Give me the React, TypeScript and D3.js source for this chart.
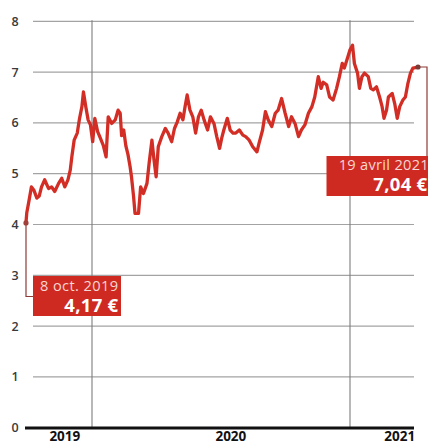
import React from "react";
import * as d3 from "d3";

// ---- data (days since 8 Oct 2019, share price in €) ----
const startDate = new Date(2019, 9, 8);
const dayOffsets = [
  0, 1, 4, 7, 10, 14, 17, 20, 24, 29, 33, 37, 42, 46, 50, 54, 57, 59, 62, 66,
  69, 72, 74, 77, 80, 83, 86, 89, 93, 96, 101, 105, 108, 113, 118, 122, 125, 127, 130, 133,
  136, 139, 141, 144, 146, 151, 154, 158, 163, 166, 170, 173, 176, 179, 184, 189, 193, 198, 202, 206,
  210, 214, 217, 220, 224, 228, 232, 236, 240, 244, 249, 253, 258, 262, 266, 269, 272, 277, 281, 285,
  289, 294, 299, 303, 308, 313, 319, 322, 327, 331, 335, 340, 345, 349, 354, 359, 364, 368, 373, 378,
  382, 387, 392, 397, 401, 406, 410, 413, 418, 422, 427, 432, 436, 440, 443, 448, 451, 455, 458, 463,
  466, 470, 474, 480, 484, 488, 493, 498, 502, 505, 509, 512, 518, 522, 526, 530, 535, 539, 543, 547,
  551, 559,
];
const prices = [
  4.04, 4.23, 4.48, 4.74, 4.68, 4.52, 4.56, 4.74, 4.88, 4.71, 4.74, 4.65, 4.81, 4.91, 4.74, 4.88, 5.07, 5.33, 5.66, 5.8,
  6.09, 6.32, 6.61, 6.32, 6.06, 5.96, 5.63, 6.09, 5.83, 5.73, 5.56, 5.33, 6.12, 5.99, 6.06, 6.25, 6.19, 5.75, 5.86, 5.55,
  5.38, 5.14, 4.94, 4.55, 4.22, 4.22, 4.74, 4.61, 4.81, 5.2, 5.66, 5.27, 4.94, 5.53, 5.73, 5.89, 5.8, 5.63, 5.89, 6.02,
  6.19, 6.06, 6.32, 6.55, 6.25, 6.12, 5.8, 6.12, 6.25, 6.06, 5.86, 6.12, 5.99, 5.73, 5.5, 5.7, 5.86, 6.09, 5.86, 5.8,
  5.8, 5.86, 5.76, 5.73, 5.66, 5.53, 5.43, 5.6, 5.86, 6.22, 6.06, 5.93, 6.19, 6.25, 6.48, 6.19, 5.93, 6.12, 5.99, 5.73,
  5.86, 5.96, 6.19, 6.32, 6.51, 6.91, 6.68, 6.8, 6.75, 6.51, 6.45, 6.68, 6.91, 7.17, 7.08, 7.3, 7.44, 7.53, 7.17, 6.98,
  6.68, 6.91, 6.98, 6.91, 6.68, 6.65, 6.71, 6.51, 6.32, 6.09, 6.25, 6.51, 6.58, 6.38, 6.09, 6.32, 6.45, 6.51, 6.78, 6.98,
  7.08, 7.1,
];
const yTicks = [0, 1, 2, 3, 4, 5, 6, 7, 8];
const yearLines = [new Date(2020, 0, 1), new Date(2021, 0, 1)];
const yearLabels = ["2019", "2020", "2021"];
const yearLabelDates = [new Date(2019, 10, 27), new Date(2020, 6, 16), new Date(2021, 2, 21)];
const firstLabel = { date: "8 oct. 2019", value: "4,17 €" };
const lastLabel = { date: "19 avril 2021", value: "7,04 €" };

export default function App() {
  const W = 428;
  const H = 444;
  const endDate = d3.timeDay.offset(startDate, 559);
  const x = d3
    .scaleTime()
    .domain([startDate, yearLines[0], yearLines[1], endDate])
    .range([26, 92, 350, 418]);
  const y = d3.scaleLinear().domain([0, 8]).range([427.7, 21.3]);

  const pts = dayOffsets.map((d, i) => ({ date: d3.timeDay.offset(startDate, d), v: prices[i] }));
  const line = d3
    .line<{ date: Date; v: number }>()
    .x((d) => x(d.date))
    .y((d) => y(d.v));

  const red = "#d22e26";
  const boxRed = "#cf2a22";
  const conn = "#8e3b36";
  const font = "'Open Sans', 'Lato', sans-serif";

  const p0 = pts[0];
  const pN = pts[pts.length - 1];
  const x0 = x(p0.date);
  const y0 = y(p0.v) + 0.5;
  const xN = x(pN.date);
  const yN = y(pN.v);

  const b1 = { x: 33, y: 276, w: 88, h: 40 };
  const b2 = { x: 326.5, y: 156, w: 110, h: 40 };

  return (
    <div style={{ position: "fixed", left: 0, top: 0 }}>
      <svg width={W} height={H} style={{ display: "block", background: "#fff" }}>
        {yTicks
          .filter((t) => t > 0)
          .map((t) => (
            <line key={t} x1={33} x2={414} y1={y(t)} y2={y(t)} stroke="#a3a3a3" strokeWidth={1.2} />
          ))}
        {yearLines.map((d, i) => (
          <line key={i} x1={x(d)} x2={x(d)} y1={y(8) - 1} y2={y(0)} stroke="#7d7d7d" strokeWidth={1.1} />
        ))}
        {yTicks.map((t) => (
          <text
            key={t}
            x={15}
            y={y(t) + 4.5}
            textAnchor="middle"
            fontFamily={font}
            fontSize={12.5}
            fontWeight={600}
            fill="#3a3a3a"
          >
            {t}
          </text>
        ))}
        <line x1={25} x2={414} y1={y(0) + 0.3} y2={y(0) + 0.3} stroke="#111" strokeWidth={3} />
        {yearLabels.map((l, i) => (
          <text
            key={l}
            x={x(yearLabelDates[i])}
            y={441}
            textAnchor="middle"
            fontFamily={font}
            fontSize={13.5}
            fontWeight={700}
            fill="#111"
          >
            {l}
          </text>
        ))}

        <polyline
          points={`${x0},${y0} ${x0},${b1.y + 20.5} ${b1.x},${b1.y + 20.5}`}
          fill="none"
          stroke={conn}
          strokeWidth={1.2}
        />
        <polyline
          points={`${xN},${yN} 427,${yN} 427,${b2.y}`}
          fill="none"
          stroke={conn}
          strokeWidth={1.2}
        />

        <path d={line(pts) || ""} fill="none" stroke={red} strokeWidth={3.3} strokeLinejoin="round" strokeLinecap="round" />
        <circle cx={x0} cy={y0} r={2.6} fill="#a0403a" />
        <circle cx={xN} cy={yN} r={2.6} fill="#7a3a36" />

        <rect x={b1.x} y={b1.y} width={b1.w} height={b1.h} fill={boxRed} />
        <text x={118.5} y={291} textAnchor="end" fontFamily={font} fontSize={14.6} fontWeight={400} letterSpacing={0.4} fill="#f6d6d2">
          {firstLabel.date}
        </text>
        <text x={118.5} y={312} textAnchor="end" fontFamily={font} fontSize={18.5} fontWeight={700} letterSpacing={0.3} fill="#fff">
          {firstLabel.value}
        </text>

        <rect x={b2.x} y={b2.y} width={b2.w} height={b2.h} fill={boxRed} />
        <text x={429} y={170} textAnchor="end" fontFamily={font} fontSize={14.6} fontWeight={400} letterSpacing={0.3} fill="#f6d6d2">
          {lastLabel.date}
        </text>
        <text x={427.5} y={191} textAnchor="end" fontFamily={font} fontSize={18.5} fontWeight={700} letterSpacing={0.3} fill="#fff">
          {lastLabel.value}
        </text>
      </svg>
    </div>
  );
}
